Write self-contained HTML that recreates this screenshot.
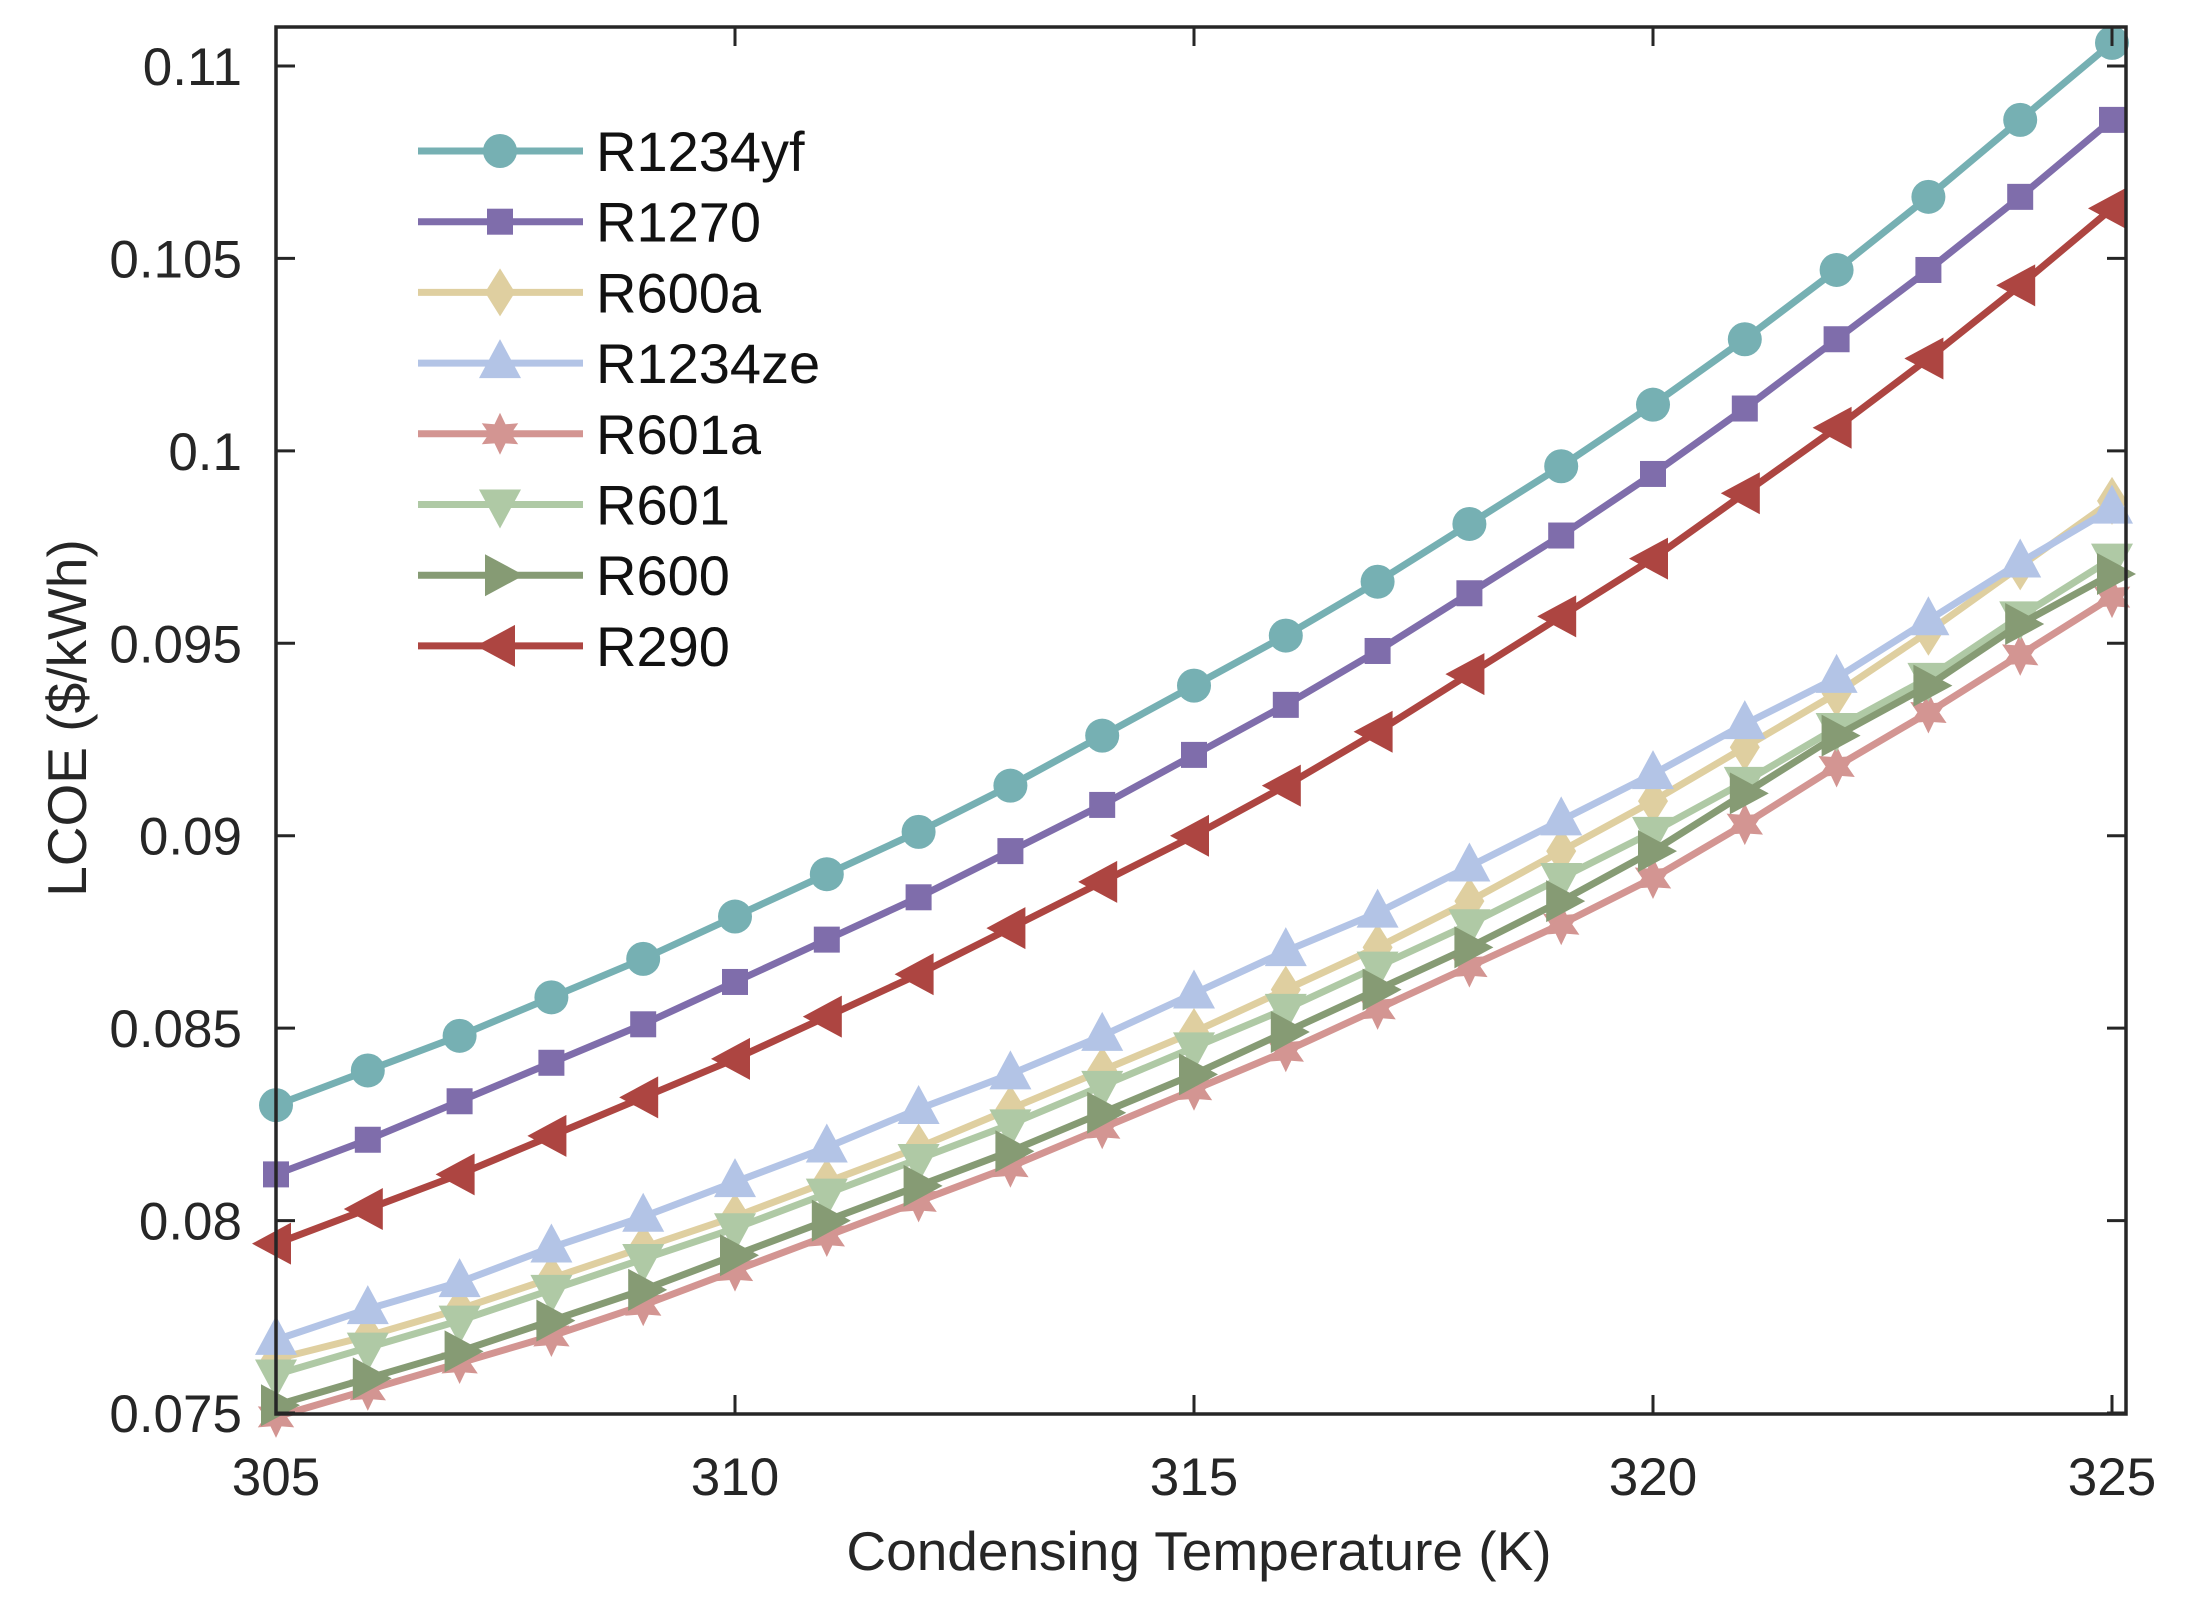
<!DOCTYPE html>
<html><head><meta charset="utf-8"><style>
body{margin:0;background:#fff}
svg{display:block;font-family:"Liberation Sans",Arial,sans-serif}
</style></head><body>
<svg id="chart" width="2186" height="1615" viewBox="0 0 2186 1615" xmlns="http://www.w3.org/2000/svg">
<rect width="2186" height="1615" fill="#fff"/>
<g id="series"></g>
<g id="axes"></g>
<g id="legend"></g>
</svg>
<script>
const temps=[305,306,307,308,309,310,311,312,313,314,315,316,317,318,319,320,321,322,323,324,325];
const names=["R1234yf","R1270","R600a","R1234ze","R601a","R601","R600","R290"];
const colors=["#76b0b3","#7f6dab","#dfcfa0","#b3c4e6","#d39592","#afc9a5","#869b74","#ad4541"];
const markers=["circle","square","diamond","up","star","down","right","left"];
const r1234yf=[0.0830,0.0839,0.0848,0.0858,0.0868,0.0879,0.0890,0.0901,0.0913,0.0926,0.0939,0.0952,0.0966,0.0981,0.0996,0.1012,0.1029,0.1047,0.1066,0.1086,0.1106];
const r1270=[0.0812,0.0821,0.0831,0.0841,0.0851,0.0862,0.0873,0.0884,0.0896,0.0908,0.0921,0.0934,0.0948,0.0963,0.0978,0.0994,0.1011,0.1029,0.1047,0.1066,0.1086];
const r600a=[0.0764,0.0770,0.0777,0.0785,0.0793,0.0801,0.0810,0.0819,0.0829,0.0839,0.0849,0.0860,0.0871,0.0883,0.0896,0.0909,0.0923,0.0937,0.0953,0.0970,0.0987];
const r1234ze=[0.0769,0.0777,0.0784,0.0793,0.0801,0.0810,0.0819,0.0829,0.0838,0.0848,0.0859,0.0870,0.0880,0.0892,0.0904,0.0916,0.0929,0.0941,0.0956,0.0971,0.0985];
const r601a=[0.0749,0.0756,0.0763,0.0770,0.0778,0.0787,0.0796,0.0805,0.0814,0.0824,0.0834,0.0844,0.0855,0.0866,0.0877,0.0889,0.0903,0.0918,0.0932,0.0947,0.0962];
const r601=[0.0760,0.0767,0.0774,0.0782,0.0790,0.0798,0.0807,0.0816,0.0825,0.0835,0.0845,0.0855,0.0866,0.0877,0.0889,0.0901,0.0914,0.0928,0.0941,0.0957,0.0972];
const r600=[0.0752,0.0759,0.0766,0.0774,0.0782,0.0791,0.0800,0.0809,0.0818,0.0828,0.0838,0.0849,0.0860,0.0871,0.0883,0.0896,0.0911,0.0926,0.0939,0.0955,0.0968];
const r290=[0.0794,0.0803,0.0812,0.0822,0.0832,0.0842,0.0853,0.0864,0.0876,0.0888,0.0900,0.0913,0.0927,0.0942,0.0957,0.0972,0.0989,0.1006,0.1024,0.1043,0.1063];
const xTicks=[305,310,315,320,325];
const yTicks=[0.075,0.08,0.085,0.09,0.095,0.1,0.105,0.11];
const yTickLabels=["0.075","0.08","0.085","0.09","0.095","0.1","0.105","0.11"];
const seriesData=[r1234yf,r1270,r600a,r1234ze,r601a,r601,r600,r290];

const NS="http://www.w3.org/2000/svg";
const L=276,R=2126,T=27,B=1414;
const X=v=>276+(v-305)/(325-305)*(2112-276);
const Y=v=>1413+(v-0.075)/(0.11-0.075)*(66-1413);
function mk(tag,attrs,parent){const e=document.createElementNS(NS,tag);for(const k in attrs)e.setAttribute(k,attrs[k]);parent.appendChild(e);return e;}
function marker(type,cx,cy,col,parent){
  let e;
  if(type==="circle")e=mk("circle",{cx,cy,r:17,fill:col},parent);
  else if(type==="square")e=mk("rect",{x:cx-13,y:cy-13,width:26,height:26,fill:col},parent);
  else{let p;
    if(type==="diamond")p=[[0,-24],[15,0],[0,24],[-15,0]];
    else if(type==="up")p=[[0,-24],[21,15],[-21,15]];
    else if(type==="down")p=[[0,24],[21,-15],[-21,-15]];
    else if(type==="right")p=[[24,0],[-15,-21],[-15,21]];
    else if(type==="left")p=[[-24,0],[15,-21],[15,21]];
    else if(type==="star"){p=[];for(let i=0;i<12;i++){const a=-Math.PI/2+i*Math.PI/6;const r=i%2?11:21;p.push([r*Math.cos(a),r*Math.sin(a)]);}}
    e=mk("polygon",{points:p.map(q=>(cx+q[0])+","+(cy+q[1])).join(" "),fill:col},parent);}
  return e;
}
const gS=document.getElementById("series");
seriesData.forEach((d,i)=>{
  const g=mk("g",{},gS);
  
  
  const pl=mk("polyline",{points:d.map((v,j)=>X(temps[j])+","+Y(v)).join(" "),fill:"none",stroke:colors[i],"stroke-width":7,"stroke-linejoin":"round"},g);
  
  
  d.forEach((v,j)=>{const m=marker(markers[i],X(temps[j]),Y(v),colors[i],g);
    
    });
});
const gA=document.getElementById("axes");
const box=mk("rect",{x:L,y:T,width:R-L,height:B-T,fill:"none",stroke:"#262626","stroke-width":3.5},gA);


xTicks.forEach(t=>{const x=X(t);
  mk("line",{x1:x,y1:B,x2:x,y2:B-19,stroke:"#262626","stroke-width":3},gA);
  mk("line",{x1:x,y1:T,x2:x,y2:T+19,stroke:"#262626","stroke-width":3},gA);
  const tx=mk("text",{x:x,y:1495,"text-anchor":"middle","font-size":53,fill:"#262626"},gA);tx.textContent=t;
  
  
});
yTicks.forEach((t,i)=>{const y=Y(t);
  mk("line",{x1:L,y1:y,x2:L+19,y2:y,stroke:"#262626","stroke-width":3},gA);
  mk("line",{x1:R,y1:y,x2:R-19,y2:y,stroke:"#262626","stroke-width":3},gA);
  const tx=mk("text",{x:242,y:y+19,"text-anchor":"end","font-size":53,fill:"#262626"},gA);tx.textContent=yTickLabels[i];
  
  
});
const xt=mk("text",{x:1199,y:1570,"text-anchor":"middle","font-size":55,fill:"#262626"},gA);xt.textContent="Condensing Temperature (K)";


const yt=mk("text",{x:0,y:0,"text-anchor":"middle","font-size":55,fill:"#262626",transform:"translate(86,718) rotate(-90)"},gA);yt.textContent="LCOE ($/kWh)";


const gL=document.getElementById("legend");
names.forEach((n,i)=>{const y=151+i*70.7;
  const g=mk("g",{},gL);
  
  
  mk("line",{x1:418,y1:y,x2:583,y2:y,stroke:colors[i],"stroke-width":7},g);
  marker(markers[i],500,y,colors[i],g);
  const tx=mk("text",{x:596,y:y+20,"font-size":56,fill:"#111"},g);tx.textContent=n;
});
</script>
</body></html>
